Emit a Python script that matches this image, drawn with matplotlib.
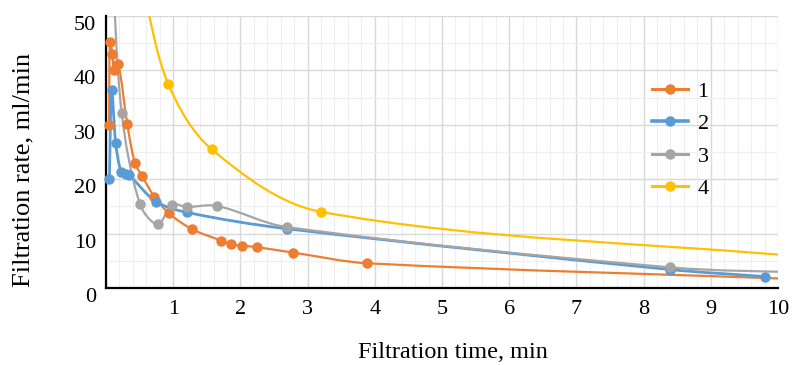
import numpy as np
import matplotlib.pyplot as plt
import matplotlib.transforms as mtransforms
from matplotlib.path import Path
from matplotlib.patches import PathPatch
from matplotlib.lines import Line2D

plt.rcParams['font.family'] = ['Liberation Serif', 'DejaVu Serif']

# filtration time (min) / filtration rate (ml/min)
time1 = [0.045, 0.06, 0.094, 0.12, 0.183, 0.317, 0.43, 0.536, 0.719, 0.94,
         1.284, 1.716, 1.86, 2.02, 2.25, 2.79, 3.89, 10.5]
rate1 = [30.0, 45.2, 43.1, 40.1, 41.1, 30.1, 23.0, 20.6, 16.8, 13.7,
         10.8, 8.7, 8.0, 7.8, 7.5, 6.5, 4.55, 1.55]

# series 2 also passes under the grey markers at 2.69 and 8.39 min
time2 = [0.05, 0.085, 0.144, 0.223, 0.293, 0.342, 0.744, 1.205, 2.69, 8.39, 9.81]
rate2 = [20.0, 36.4, 26.7, 21.4, 21.0, 20.8, 15.9, 13.9, 10.9, 3.4, 2.1]

time3 = [0.09, 0.234, 0.506, 0.77, 0.987, 1.205, 1.647, 2.69, 8.39, 10.5]
rate3 = [60.0, 32.2, 15.4, 11.7, 15.3, 14.9, 15.1, 11.2, 3.8, 2.8]

time4 = [0.55, 0.927, 1.573, 3.2, 10.5]
rate4 = [55.0, 37.5, 25.5, 14.0, 5.6]

labels = ['1', '2', '3', '4']
colors = ['#ED7D31', '#5B9BD5', '#A5A5A5', '#FFC000']
series = [(time1, rate1), (time2, rate2), (time3, rate3), (time4, rate4)]

XMAX, YMAX = 10, 50


def smooth_path(ax, x, y):
    # smoothed line like the spreadsheet one: Bezier pieces, handles scaled
    # by the screen length of each piece
    p = np.column_stack([x, y]).astype(float)
    d = ax.transData.transform(p)
    n = len(p)
    L = np.hypot(*(d[1:] - d[:-1]).T)
    m = np.zeros_like(p)
    for i in range(1, n - 1):
        m[i] = (p[i + 1] - p[i - 1]) / (L[i - 1] + L[i])
    m[0] = (p[1] - p[0]) / L[0]
    m[-1] = (p[-1] - p[-2]) / L[-1]
    verts = [p[0]]
    codes = [Path.MOVETO]
    for i in range(n - 1):
        c1 = p[i] + m[i] * L[i] / 3
        c2 = p[i + 1] - m[i + 1] * L[i] / 3
        verts += [c1, c2, p[i + 1]]
        codes += [Path.CURVE4] * 3
    return Path(verts, codes)


fig = plt.figure(figsize=(7.96, 3.65), dpi=100)
ax = fig.add_axes([106 / 796, 77 / 365, 672 / 796, 272 / 365])
ax.set_xlim(0, XMAX)
ax.set_ylim(0, YMAX)

ax.set_xticks(range(0, 11))
ax.set_xticklabels([''] + [str(i) for i in range(1, 11)])
ax.set_yticks(range(0, 51, 10))
ax.set_xticks(np.arange(0, 10.01, 0.2), minor=True)
ax.set_yticks(range(0, 51, 5), minor=True)
ax.grid(which='major', color='#D9D9D9', lw=1.0)
ax.grid(which='minor', color='#EFEFEF', lw=0.8)
ax.set_axisbelow(True)
ax.tick_params(which='both', length=0)
ax.tick_params(axis='x', labelsize=16, pad=9)
ax.tick_params(axis='y', labelsize=16, pad=7)
shift = mtransforms.ScaledTranslation(0, -5 / 72, fig.dpi_scale_trans)
for lab in ax.get_yticklabels():
    lab.set_transform(lab.get_transform() + shift)

for s in ['top', 'right']:
    ax.spines[s].set_visible(False)
for s in ['left', 'bottom']:
    ax.spines[s].set_color('black')
    ax.spines[s].set_linewidth(1.6)

handles = []
for k, ((t, r), c, lab) in enumerate(zip(series, colors, labels)):
    lw = 2.0 if lab == '2' else 1.6
    path = smooth_path(ax, t, r)
    ax.add_patch(PathPatch(path, fill=False, edgecolor=c, lw=lw,
                           transform=ax.transData, zorder=2 + k * 0.1))
    t = np.array(t)
    r = np.array(r)
    keep = (t <= XMAX) & (r <= YMAX)
    ax.plot(t[keep], r[keep], 'o', color=c, ms=6.5, zorder=4 + k * 0.1,
            clip_on=False)
    handles.append(Line2D([], [], color=c, lw=lw + 0.6, marker='o', ms=6.5))

ax.set_xlim(0, XMAX)
ax.set_ylim(0, YMAX)

ax.legend(handles, labels, loc='upper left', bbox_to_anchor=(0.8125, 0.76),
          frameon=False, fontsize=16, borderpad=0, borderaxespad=0,
          handlelength=1.6, handletextpad=0.45, labelspacing=0.53)

ax.set_xlabel('Filtration time, min', fontsize=17.5)
ax.xaxis.set_label_coords(0.516, -0.2)
ax.xaxis.label.set_va('top')
ax.set_ylabel('Filtration rate, ml/min', fontsize=19)
ax.yaxis.set_label_coords(-0.107, 0.434)

fig.savefig('out.png', dpi=100)
